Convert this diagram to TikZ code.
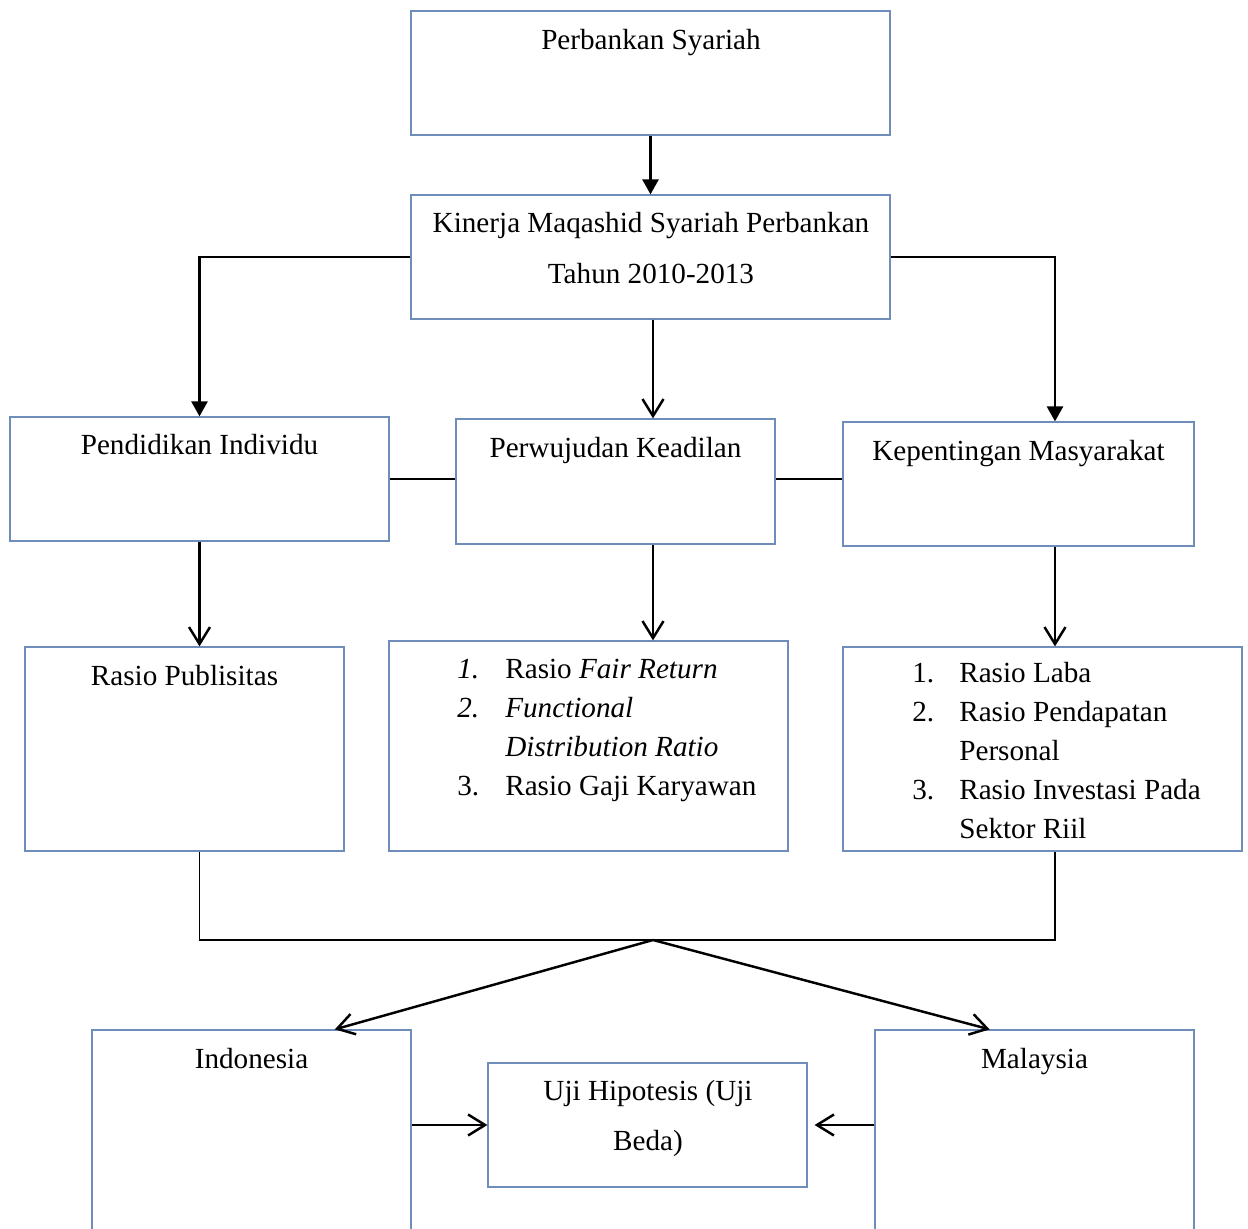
\documentclass[tikz,border=0pt]{standalone}
\usepackage{fontspec}
\setmainfont{Liberation Serif}
\usepackage{tikz}
\usepackage{xcolor}
\usetikzlibrary{arrows.meta, calc}
\definecolor{BoxBlue}{HTML}{6F8DBA}

\tikzset{
  box/.style={draw=BoxBlue, line width=0.7pt, inner sep=0pt},
  txt/.style={font=\fontsize{16.6}{22.2}\selectfont, inner sep=0pt},
  widetxt/.style={font=\fontsize{16.6}{29}\selectfont, inner sep=0pt, align=center},
  solidarrow/.style={-{Triangle[length=0.3cm,width=0.32cm]}, line width=1.5pt},
  openarrow/.style={-{Straight Barb[length=0.34cm,width=0.42cm]}, line width=1.4pt},
  frameline/.style={line width=0.6pt}
}

\begin{document}
\begin{tikzpicture}[x=0.02cm, y=-0.02cm]
\useasboundingbox (0,0) rectangle (1248,1229);
\clip (0,0) rectangle (1248,1229);
% --- Level 1 and 2 ---
\node[box, minimum width=9.58cm, minimum height=2.48cm] (pb) at (650.5,73) {};
\node[txt, anchor=base] (pbtext) at (651,50) {Perbankan Syariah};
\node[box, minimum width=9.58cm, minimum height=2.48cm] (kms) at (650.5,257) {};
\node[widetxt] (kmstext) at (651,248) {Kinerja Maqashid Syariah Perbankan\\Tahun 2010-2013};
\coordinate (mcol) at (653,0);
\coordinate (rcol) at (1055,0);
% --- Level 3: the three dimensions ---
\node[box, minimum width=7.58cm, minimum height=2.48cm] (pi) at (199.5,479) {};
\node[txt, anchor=base] (pitext) at (199.5,455) {Pendidikan Individu};
\node[box, minimum width=6.38cm, minimum height=2.5cm] (pk) at (615.5,481.5) {};
\node[txt, anchor=base] (pktext) at (615.5,458) {Perwujudan Keadilan};
\node[box, minimum width=7.02cm, minimum height=2.48cm] (km) at (1018.5,484) {};
\node[txt, anchor=base] (kmtext) at (1018.5,461) {Kepentingan Masyarakat};
% --- Level 4: the ratios ---
\node[box, minimum width=6.38cm, minimum height=4.08cm] (rp) at (184.5,749) {};
\node[txt, anchor=base] (rptext) at (184.5,685) {Rasio Publisitas};
\node[box, minimum width=7.98cm, minimum height=4.2cm] (rf) at (588.5,746) {};
\node[txt, align=left, anchor=west] (rftext) at (457,730) {%
  \makebox[0.96cm][l]{\textit{1.}}Rasio \textit{Fair Return}\\
  \makebox[0.96cm][l]{\textit{2.}}\textit{Functional}\\
  \hspace*{0.96cm}\textit{Distribution Ratio}\\
  \makebox[0.96cm][l]{3.}Rasio Gaji Karyawan};
\node[box, minimum width=7.98cm, minimum height=4.08cm] (rl) at (1042.5,749) {};
\node[txt, align=left, anchor=west] (rltext) at (912,751) {%
  \makebox[0.94cm][l]{1.}Rasio Laba\\
  \makebox[0.94cm][l]{2.}Rasio Pendapatan\\
  \hspace*{0.94cm}Personal\\
  \makebox[0.94cm][l]{3.}Rasio Investasi Pada\\
  \hspace*{0.94cm}Sektor Riil};
% --- Level 5: countries and test ---
\coordinate (join) at (653,940);
\node[box, minimum width=6.38cm, minimum height=4.6cm] (ind) at (251.5,1145) {};
\node[txt, anchor=base] (indtext) at (251.5,1068) {Indonesia};
\node[box, minimum width=6.38cm, minimum height=2.48cm] (uji) at (647.5,1125) {};
\node[widetxt] (ujitext) at (648,1118.5) {Uji Hipotesis (Uji\\Beda)};
\node[box, minimum width=6.38cm, minimum height=4.6cm] (mal) at (1034.5,1145) {};
\node[txt, anchor=base] (maltext) at (1034.5,1068) {Malaysia};
% --- Connectors ---
\draw[solidarrow] (pb) -- (kms);
\draw[solidarrow] (kms.west) -| (pi.north);
\draw[solidarrow] (kms.east) -| (km.north -| rcol);
\draw[openarrow] (kms.south -| mcol) -- (pk.north -| mcol);
\draw[line width=1.4pt] (pi.east) -- (pk.west |- pi.east);
\draw[line width=1.4pt] (pk.east |- pi.east) -- (km.west |- pi.east);
\draw[openarrow] (pi.south) -- (rp.north -| pi.south);
\draw[openarrow] (pk.south -| mcol) -- (rf.north -| mcol);
\draw[openarrow] (km.south -| rcol) -- (rl.north -| rcol);
\draw[frameline] (rp.south -| pi.south) |- (join) -| (rl.south -| rcol);
\draw[openarrow] (join) -- ($(ind.north west)!0.76!(ind.north east)$);
\draw[openarrow] (join) -- ($(mal.north west)!0.36!(mal.north east)$);
\draw[openarrow] (ind.east |- uji.west) -- (uji.west);
\draw[openarrow, shorten >=0.14cm] (mal.west |- uji.east) -- (uji.east);
\end{tikzpicture}
\end{document}
